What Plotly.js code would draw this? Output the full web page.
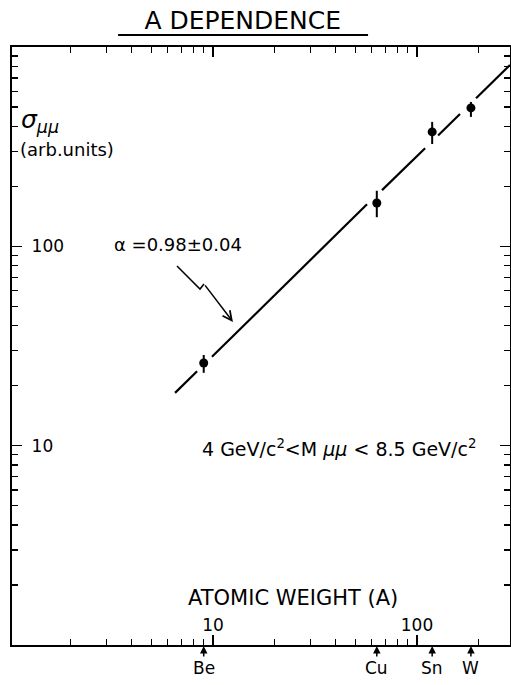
<!DOCTYPE html>
<html>
<head>
<meta charset="utf-8">
<script src="https://cdn.plot.ly/plotly-3.0.1.min.js"></script>
<style>html,body{margin:0;padding:0;background:#fff;}</style>
</head>
<body>
<div id="chart" style="width:511px;height:685px;"></div>
<script>
// Data
const elements = ['Be', 'Cu', 'Sn', 'W'];
const atomicWeight = [9.01, 63.55, 118.71, 183.84];
const sigma = [26.0, 165, 375, 495];
const errPlus = [2.5, 25, 46, 35];
const errMinus = [2.8, 25, 49, 49];

// Fitted line (alpha = 0.98), drawn as broken segments around the points
const fitA = [6.52, 8.36, null, 9.89, 56.9, null, 67.4, 109.6, null, 126.9, 162.5, null, 194.8, 285.6];
const fitSigma = [18.4, 23.6, null, 27.9, 162.6, null, 191.4, 310.6, null, 360, 461.6, null, 553, 813];

const xTickVals = [10, 100];
const xTickText = ['10', '100'];
const yTickVals = [10, 100];
const yTickText = ['10', '100'];
const xMinorVals = [2, 3, 4, 5, 6, 7, 8, 9, 20, 30, 40, 50, 60, 70, 80, 90, 200];
const yMinorVals = [2, 3, 4, 5, 6, 7, 8, 9, 20, 30, 40, 50, 60, 70, 80, 90, 200, 300, 400, 500, 600, 700, 800, 900];

const FONT = 'DejaVu Sans, Liberation Sans, sans-serif';

const traces = [
  {
    x: fitA, y: fitSigma, mode: 'lines', connectgaps: false,
    line: {color: '#000', width: 2.2}, hoverinfo: 'skip', showlegend: false
  },
  {
    x: atomicWeight, y: sigma, mode: 'markers',
    marker: {color: '#000', size: 9},
    error_y: {type: 'data', symmetric: false, array: errPlus, arrayminus: errMinus,
              width: 0, thickness: 2, color: '#000'},
    showlegend: false
  }
];

const axisCommon = {
  showline: true, linecolor: '#000', linewidth: 2, mirror: 'allticks',
  ticks: 'inside', ticklen: 10, tickwidth: 1.5, tickcolor: '#000',
  showgrid: false, zeroline: false,
  tickmode: 'array', ticklabelposition: 'inside',
  tickfont: {family: FONT, size: 17, color: '#000'}
};

const elementAnnotations = elements.map((el, i) => ({
  x: Math.log10(atomicWeight[i]), y: 0, xref: 'x', yref: 'paper',
  text: el, showarrow: true, ax: 0, ay: 23, arrowhead: 2, arrowsize: 1,
  arrowwidth: 1.5, arrowcolor: '#000', standoff: 1,
  font: {family: FONT, size: 17, color: '#000'}
}));

const layout = {
  width: 511, height: 685,
  margin: {l: 12, r: 1, t: 47, b: 40},
  paper_bgcolor: '#fff', plot_bgcolor: '#fff',
  title: {
    text: 'A DEPENDENCE', x: 0.475, xref: 'container', xanchor: 'center',
    y: 0.971, yref: 'container', yanchor: 'middle',
    font: {family: FONT, size: 25, color: '#000'}
  },
  xaxis: Object.assign({}, axisCommon, {
    type: 'log', range: [0.015, 2.456],
    tickvals: xTickVals, ticktext: xTickText, ticklabelstandoff: 1,
    minor: {tickmode: 'array', tickvals: xMinorVals, ticks: 'inside', ticklen: 6,
            tickwidth: 1.3, tickcolor: '#000', showgrid: false}
  }),
  yaxis: Object.assign({}, axisCommon, {
    type: 'log', range: [0, 3],
    tickvals: yTickVals, ticktext: yTickText, ticklabelstandoff: 10,
    minor: {tickmode: 'array', tickvals: yMinorVals, ticks: 'inside', ticklen: 6,
            tickwidth: 1.3, tickcolor: '#000', showgrid: false}
  }),
  shapes: [
    {type: 'line', xref: 'paper', yref: 'paper', x0: 0.213, x1: 0.715, y0: 1.020, y1: 1.020,
     line: {color: '#000', width: 2}},
    {type: 'path', xref: 'paper', yref: 'paper',
     path: 'M 0.3313 0.6338 L 0.3775 0.5953 L 0.3855 0.6037',
     line: {color: '#000', width: 1.5}}
  ],
  annotations: [
    {xref: 'paper', yref: 'paper', x: 0.015, y: 0.876, xanchor: 'left', yanchor: 'middle', showarrow: false,
     text: '<i>σ</i><sub><i>μμ</i></sub>', font: {family: FONT, size: 25, color: '#000'}},
    {xref: 'paper', yref: 'paper', x: 0.012, y: 0.828, xanchor: 'left', yanchor: 'middle', showarrow: false,
     text: '(arb.units)', font: {family: FONT, size: 18, color: '#000'}},
    {xref: 'paper', yref: 'paper', x: 0.333, y: 0.669, xanchor: 'center', yanchor: 'middle', showarrow: false,
     text: 'α =0.98±0.04', font: {family: FONT, size: 18, color: '#000'}},
    {x: 1.098, y: 1.621, xref: 'x', yref: 'y', text: '', showarrow: true,
     ax: -29, ay: -38, arrowhead: 5, arrowsize: 1.2, arrowwidth: 1.5, arrowcolor: '#000', standoff: 0},
    {xref: 'paper', yref: 'paper', x: 0.657, y: 0.329, xanchor: 'center', yanchor: 'middle', showarrow: false,
     text: '4 GeV/c<sup>2</sup>&lt;M <i>μμ</i> &lt; 8.5 GeV/c<sup>2</sup>',
     font: {family: FONT, size: 19, color: '#000'}},
    {xref: 'paper', yref: 'paper', x: 0.564, y: 0.079, xanchor: 'center', yanchor: 'middle', showarrow: false,
     text: 'ATOMIC WEIGHT (A)', font: {family: FONT, size: 21, color: '#000'}}
  ].concat(elementAnnotations)
};

Plotly.newPlot('chart', traces, layout, {displayModeBar: false, staticPlot: true});
</script>
</body>
</html>
